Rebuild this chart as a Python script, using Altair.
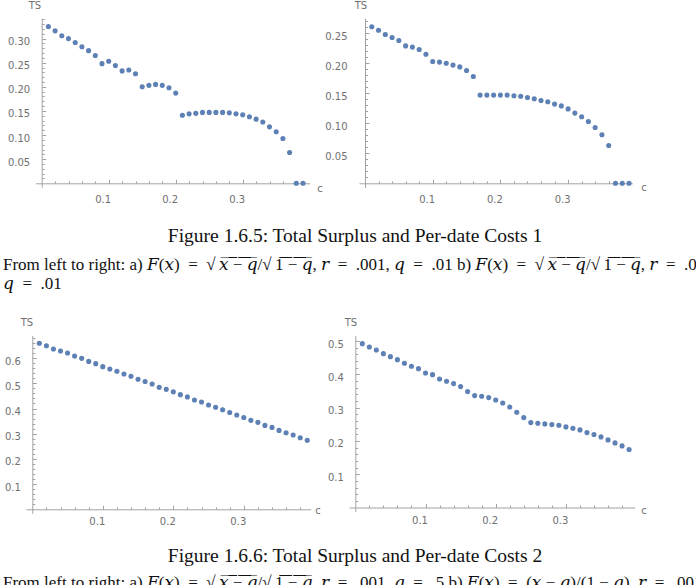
import altair as alt
import pandas as pd

# ---------------------------------------------------------------- data
# per-date cost c used in every run
cost = [0.01, 0.02, 0.03, 0.04, 0.05, 0.06, 0.07, 0.08, 0.09, 0.10,
        0.11, 0.12, 0.13, 0.14, 0.15, 0.16, 0.17, 0.18, 0.19, 0.20,
        0.21, 0.22, 0.23, 0.24, 0.25, 0.26, 0.27, 0.28, 0.29, 0.30,
        0.31, 0.32, 0.33, 0.34, 0.35, 0.36, 0.37, 0.38, 0.39]

# total surplus, Figure 1.6.5 a)
ts_165a = [0.325, 0.316, 0.306, 0.300, 0.292, 0.283, 0.275, 0.265, 0.248, 0.253,
           0.244, 0.233, 0.235, 0.227, 0.200, 0.203, 0.205, 0.203, 0.198, 0.187,
           0.141, 0.144, 0.145, 0.147, 0.147, 0.147, 0.147, 0.146, 0.144, 0.142,
           0.138, 0.133, 0.127, 0.117, 0.107, 0.093, 0.064, 0.0, 0.0]
# total surplus, Figure 1.6.5 b)
ts_165b = [0.261, 0.255, 0.248, 0.243, 0.238, 0.229, 0.227, 0.223, 0.215, 0.203,
           0.202, 0.200, 0.197, 0.194, 0.188, 0.178, 0.147, 0.147, 0.147, 0.147,
           0.147, 0.146, 0.145, 0.143, 0.141, 0.138, 0.136, 0.132, 0.129, 0.124,
           0.117, 0.111, 0.103, 0.093, 0.081, 0.063, 0.0, 0.0, 0.0]
# total surplus, Figure 1.6.6 a)
ts_166a = [0.659, 0.649, 0.636, 0.628, 0.620, 0.608, 0.599, 0.587, 0.578, 0.566,
           0.557, 0.548, 0.537, 0.528, 0.516, 0.507, 0.497, 0.484, 0.476, 0.466,
           0.455, 0.446, 0.434, 0.426, 0.414, 0.405, 0.395, 0.384, 0.374, 0.364,
           0.353, 0.345, 0.333, 0.325, 0.313, 0.304, 0.295, 0.284, 0.274]
# total surplus, Figure 1.6.6 b)
ts_166b = [0.492, 0.482, 0.473, 0.462, 0.453, 0.444, 0.433, 0.424, 0.417, 0.404,
           0.399, 0.386, 0.379, 0.372, 0.363, 0.348, 0.336, 0.334, 0.330, 0.323,
           0.314, 0.302, 0.286, 0.270, 0.255, 0.253, 0.251, 0.249, 0.247, 0.242,
           0.238, 0.233, 0.225, 0.219, 0.212, 0.203, 0.194, 0.185, 0.174]

# tick marks
x_major = [0.1, 0.2, 0.3]
x_minor = [round(0.02 * i, 2) for i in range(1, 20)]

# captions (math letters as Unicode mathematical italics, radicals with overlines)
F, X, Q, R = "\U0001D439", "\U0001D465", "\U0001D45E", "\U0001D45F"
OL = "\u0305"
MINUS = "\u2212"
SP = "\u2002"     # wider spacing around relations
THIN = "\u2009"


def root(s):
    return "\u221A" + THIN + "".join(ch + OL for ch in s)


def eq(lhs, rhs):
    return f"{lhs}{SP}={SP}{rhs}"


sqrt_F = eq(f"{F}({X})", f"{root(X + ' ' + MINUS + ' ' + Q)}/{root('1 ' + MINUS + ' ' + Q)}")
lin_F = eq(f"{F}({X})", f"({X} {MINUS} {Q})/(1 {MINUS} {Q})")
cap_165 = "Figure 1.6.5: Total Surplus and Per-date Costs 1"
note_165 = (f"From left to right: a) {sqrt_F}, {eq(R, '.001')}, {eq(Q, '.01')} "
            f"b) {sqrt_F}, {eq(R, '.01')},")
note_165b = eq(Q, ".01")
cap_166 = "Figure 1.6.6: Total Surplus and Per-date Costs 2"
note_166 = (f"From left to right: a) {sqrt_F}, {eq(R, '.001')}, {eq(Q, '.5')} "
            f"b) {lin_F}, {eq(R, '.001')}, {eq(Q, '.5')}")

# ---------------------------------------------------------------- layout
W, H = 696, 585
BLUE = "#5E81B5"
AXIS = "#a3a3a3"
LABEL = "#707070"
TICK_MAJ, TICK_MIN = 4.0, 2.5
SERIF = "Liberation Serif, DejaVu Serif, serif"

panels = [
    dict(ts=ts_165a, x0=41.7, y0=183.3, kx=670, ky=482.4, xdom=[-0.009, 0.40], ydom=[-0.008, 0.342],
         ymaj=[0.05, 0.10, 0.15, 0.20, 0.25, 0.30], ymin=[round(0.01 * i, 2) for i in range(1, 35)],
         yfmt=".2f", ypad=12, xpad=11, ts_pos=(35, 6), c_pos=(320, 189)),
    dict(ts=ts_165b, x0=365.0, y0=183.3, kx=677, ky=600, xdom=[-0.009, 0.395], ydom=[-0.007, 0.275],
         ymaj=[0.05, 0.10, 0.15, 0.20, 0.25], ymin=[round(0.01 * i, 2) for i in range(1, 28)],
         yfmt=".2f", ypad=18, xpad=11, ts_pos=(361, 6), c_pos=(644, 188)),
    dict(ts=ts_166a, x0=32.3, y0=509.3, kx=705, ky=252, xdom=[-0.009, 0.395], ydom=[-0.016, 0.69],
         ymaj=[0.1, 0.2, 0.3, 0.4, 0.5, 0.6], ymin=[round(0.02 * i, 2) for i in range(1, 35)],
         yfmt=".1f", ypad=12, xpad=7.5, ts_pos=(27, 323), c_pos=(318, 511)),
    dict(ts=ts_166b, x0=355.3, y0=507.5, kx=702, ky=333, xdom=[-0.009, 0.398], ydom=[-0.012, 0.517],
         ymaj=[0.1, 0.2, 0.3, 0.4, 0.5], ymin=[round(0.02 * i, 2) for i in range(1, 26)],
         yfmt=".1f", ypad=12, xpad=7.5, ts_pos=(351, 323), c_pos=(644, 511)),
]


def build_panel(p):
    df = pd.DataFrame({"c": cost, "TS": p["ts"]})
    xr = [p["x0"] + p["kx"] * p["xdom"][0], p["x0"] + p["kx"] * p["xdom"][1]]
    yr = [p["y0"] - p["ky"] * p["ydom"][0], p["y0"] - p["ky"] * p["ydom"][1]]
    xs = alt.Scale(domain=p["xdom"], range=xr, nice=False, zero=False)
    ys = alt.Scale(domain=p["ydom"], range=yr, nice=False, zero=False)

    def xaxis(kind):
        if kind == "line":
            return alt.Axis(orient="bottom", offset=p["y0"] - H, ticks=False, labels=False,
                            domain=True, grid=False, title=None)
        size = TICK_MAJ if kind == "major" else TICK_MIN
        return alt.Axis(orient="bottom", offset=p["y0"] - size - H, domain=False, grid=False,
                        title=None, tickSize=size, values=x_major if kind == "major" else x_minor,
                        labels=(kind == "major"), format=".1f", labelPadding=p["xpad"],
                        labelOffset=-6, labelFlush=False, labelOverlap=False)

    def yaxis(kind):
        if kind == "line":
            return alt.Axis(orient="left", offset=-p["x0"], ticks=False, labels=False,
                            domain=True, grid=False, title=None)
        size = TICK_MAJ if kind == "major" else TICK_MIN
        return alt.Axis(orient="left", offset=-(p["x0"] + size), domain=False, grid=False,
                        title=None, tickSize=size, values=p["ymaj"] if kind == "major" else p["ymin"],
                        labels=(kind == "major"), format=p["yfmt"], labelPadding=p["ypad"],
                        labelOffset=3, labelFlush=False, labelOverlap=False)

    base = alt.Chart(df)
    layers = []
    for kind in ("minor", "major"):
        layers.append(base.mark_circle(opacity=0).encode(
            x=alt.X("c:Q", scale=xs, axis=xaxis(kind)),
            y=alt.Y("TS:Q", scale=ys, axis=yaxis(kind))))
    layers.append(base.mark_circle(size=26, color=BLUE, opacity=1).encode(
        x=alt.X("c:Q", scale=xs, axis=xaxis("line")),
        y=alt.Y("TS:Q", scale=ys, axis=yaxis("line"))))
    for txt, pos in (("TS", p["ts_pos"]), ("c", p["c_pos"])):
        layers.append(alt.Chart(pd.DataFrame({"t": [txt]})).mark_text(
            font="DejaVu Sans", fontSize=10, color=LABEL, align="center", baseline="middle"
        ).encode(x=alt.value(pos[0]), y=alt.value(pos[1]), text="t:N"))
    return layers


def text_line(txt, x, y, align, size=17):
    return alt.Chart(pd.DataFrame({"t": [txt]})).mark_text(
        font=SERIF, fontSize=size, color="#111111", align=align, baseline="middle"
    ).encode(x=alt.value(x), y=alt.value(y), text="t:N")


layers = []
for p in panels:
    layers += build_panel(p)
layers += [
    text_line(cap_165, 355, 236, "center", 19.5),
    text_line(note_165, 3, 265, "left"),
    text_line(note_165b, 3, 284, "left"),
    text_line(cap_166, 355, 556, "center", 19.5),
    text_line(note_166, 3, 583, "left"),
]

chart = (
    alt.layer(*layers)
    .resolve_scale(x="independent", y="independent")
    .resolve_axis(x="independent", y="independent")
    .properties(width=W, height=H, padding=0, autosize=alt.AutoSizeParams(type="none"))
    .configure_view(stroke=None)
    .configure_axis(labelFont="DejaVu Sans", labelFontSize=10, labelColor=LABEL,
                    tickColor=AXIS, domainColor=AXIS, tickWidth=1, domainWidth=1)
)

chart.save("out.html", embed_options={"renderer": "svg", "actions": False})
